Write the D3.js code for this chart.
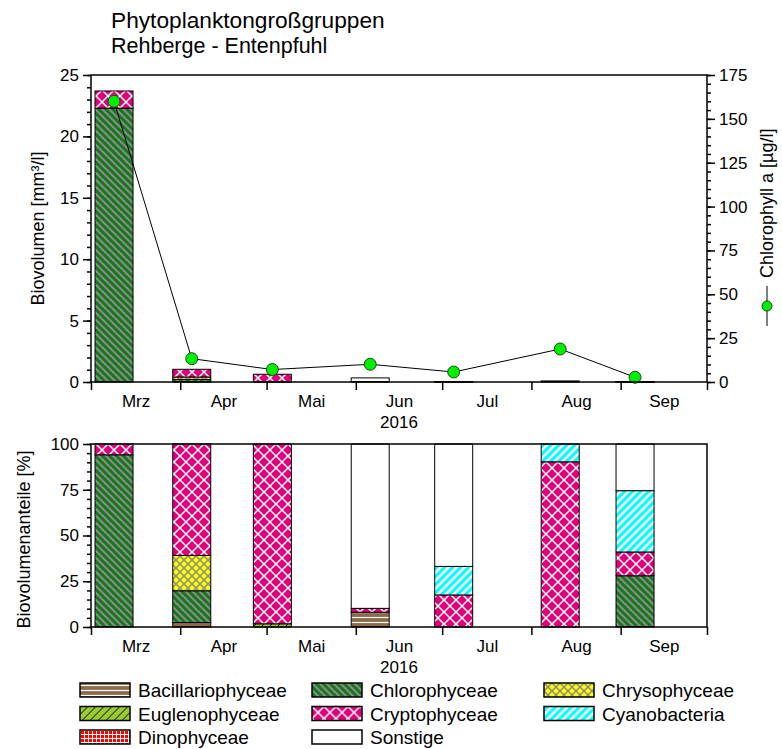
<!DOCTYPE html>
<html>
<head>
<meta charset="utf-8">
<script src="https://cdn.jsdelivr.net/npm/d3@7"></script>
<style>
  body { margin: 0; background: #fff; }
  svg { display: block; }
</style>
</head>
<body>
<script>
// Probenahmen Rehberge - Entenpfuhl 2016
const months = ['Mrz', 'Apr', 'Mai', 'Jun', 'Jul', 'Aug', 'Sep']
const sampleDates = ['2016-03-09', '2016-04-05', '2016-05-03', '2016-06-06', '2016-07-05', '2016-08-11', '2016-09-06']
const groups = ['Bacillariophyceae', 'Chlorophyceae', 'Chrysophyceae', 'Euglenophyceae',
  'Cryptophyceae', 'Cyanobacteria', 'Dinophyceae', 'Sonstige']

// Biovolumen [mm³/l] je Gruppe und Probe
const bacillariophyceae = [0, 0.025, 0, 0.027, 0, 0, 0]
const chlorophyceae = [22.3, 0.18, 0, 0, 0, 0, 0.0028]
const chrysophyceae = [0, 0.2, 0, 0, 0, 0, 0]
const euglenophyceae = [0, 0, 0.011, 0, 0, 0, 0]
const cryptophyceae = [1.4, 0.63, 0.62, 0.007, 0.0027, 0.065, 0.0013]
const cyanobacteria = [0, 0, 0, 0, 0.0024, 0.007, 0.00335]
const dinophyceae = [0, 0, 0, 0, 0, 0, 0]
const sonstige = [0, 0, 0, 0.3, 0.0103, 0, 0.00255]

// Chlorophyll a [µg/l]
const chlorophyll = [160, 13.3, 7.1, 10.1, 5.7, 18.8, 2.7]

const biovolumeTicks = [0, 5, 10, 15, 20, 25]
const chlorophyllTicks = [0, 25, 50, 75, 100, 125, 150, 175]
const percentTicks = [0, 25, 50, 75, 100]

const overallWidth = 782
const overallHeight = 749
const plot = { left: 91, right: 707, top1: 75, bottom1: 382, top2: 444, bottom2: 627 }
const barWidth = 38
const font = "'Liberation Sans', Arial, sans-serif"

const biovolumes = [bacillariophyceae, chlorophyceae, chrysophyceae, euglenophyceae,
  cryptophyceae, cyanobacteria, dinophyceae, sonstige]

const parse = d3.timeParse('%Y-%m-%d')
const dates = sampleDates.map(parse)

const rows = dates.map((date, i) => {
  const row = { date }
  groups.forEach((g, j) => { row[g] = biovolumes[j][i] })
  return row
})
const percentRows = rows.map(r => {
  const total = d3.sum(groups, g => r[g])
  const row = { date: r.date }
  groups.forEach(g => { row[g] = 100 * r[g] / total })
  return row
})

const x = d3.scaleTime()
  .domain([new Date(2016, 2, 1), new Date(2016, 9, 1)])
  .range([plot.left, plot.right])
const y1 = d3.scaleLinear().domain([0, 25]).range([plot.bottom1, plot.top1])
const y2 = d3.scaleLinear().domain([0, 175]).range([plot.bottom1, plot.top1])
const y3 = d3.scaleLinear().domain([0, 100]).range([plot.bottom2, plot.top2])

const monthStarts = d3.timeMonth.range(x.domain()[0], d3.timeDay.offset(x.domain()[1], 1))
const monthMids = months.map((m, i) => new Date((+monthStarts[i] + +monthStarts[i + 1]) / 2))

const svg = d3.select('body').append('svg')
  .attr('width', overallWidth)
  .attr('height', overallHeight)
  .attr('font-family', font)

// Schraffuren
const defs = svg.append('defs')
const pattern = (id, w, h, bg) => {
  const p = defs.append('pattern')
    .attr('id', id)
    .attr('patternUnits', 'userSpaceOnUse')
    .attr('width', w)
    .attr('height', h)
  p.append('rect').attr('width', w).attr('height', h).attr('fill', bg)
  return p
}
pattern('p-bac', 6, 5, '#8c6a4a')
  .append('path').attr('d', 'M0,2.5H6').attr('stroke', '#fff').attr('stroke-width', 1.2)
pattern('p-chl', 7, 7, '#13791a')
  .append('path').attr('d', 'M0,0L7,7M-1,6L1,8M6,-1L8,1').attr('stroke', '#8a8a8a').attr('stroke-width', 2)
pattern('p-chr', 8, 8, '#ffff00')
  .append('path').attr('d', 'M0,0L8,8M8,0L0,8').attr('stroke', '#8a8a8a').attr('stroke-width', 1.5)
pattern('p-eug', 8, 8, '#99cc33')
  .append('path').attr('d', 'M0,8L8,0M-1,1L1,-1M7,9L9,7').attr('stroke', '#000').attr('stroke-width', 1)
pattern('p-cry', 12, 12, '#e0007a')
  .append('path').attr('d', 'M0,0L12,12M12,0L0,12').attr('stroke', '#fff').attr('stroke-width', 1.5)
pattern('p-cya', 8, 8, '#00ffff')
  .append('path').attr('d', 'M0,8L8,0M-1,1L1,-1M7,9L9,7').attr('stroke', '#fff').attr('stroke-width', 2.5)
pattern('p-din', 4, 4, '#ff0000')
  .append('path').attr('d', 'M0,0.5H4M0.5,0V4').attr('stroke', '#fff').attr('stroke-width', 1)

const fills = {
  Bacillariophyceae: 'url(#p-bac)',
  Chlorophyceae: 'url(#p-chl)',
  Chrysophyceae: 'url(#p-chr)',
  Euglenophyceae: 'url(#p-eug)',
  Cryptophyceae: 'url(#p-cry)',
  Cyanobacteria: 'url(#p-cya)',
  Dinophyceae: 'url(#p-din)',
  Sonstige: '#fff'
}

const stack = d3.stack().keys(groups)

const drawBars = (series, y) => svg.append('g')
  .selectAll('g')
  .data(series).join('g')
  .attr('fill', d => fills[d.key])
  .selectAll('rect')
  .data(d => d.filter(s => s[1] - s[0] > 0)).join('rect')
  .attr('x', d => x(d.data.date) - barWidth / 2)
  .attr('width', barWidth)
  .attr('y', d => y(d[1]))
  .attr('height', d => y(d[0]) - y(d[1]))
  .attr('stroke', '#000')
  .attr('stroke-width', 1)

const styleAxis = g => g
  .attr('font-size', 17)
  .attr('font-family', font)
  .call(g => g.select('.domain').remove())
  .call(g => g.selectAll('.tick line').attr('stroke', '#000').attr('stroke-width', 1.5))
  .call(g => g.selectAll('.tick text').attr('fill', '#000'))

const xAxes = (yPos) => {
  svg.append('g')
    .attr('transform', `translate(0,${yPos})`)
    .call(d3.axisBottom(x).tickValues(monthStarts).tickSize(8).tickFormat(''))
    .call(styleAxis)
  svg.append('g')
    .attr('transform', `translate(0,${yPos})`)
    .call(d3.axisBottom(x).tickValues(monthMids).tickSize(0).tickPadding(13).tickFormat((d, i) => months[i]))
    .call(styleAxis)
  svg.append('text')
    .text('2016')
    .attr('x', (plot.left + plot.right) / 2)
    .attr('y', yPos + 46)
    .attr('text-anchor', 'middle')
    .attr('font-size', 17)
}

// oberes Diagramm: Biovolumen + Chlorophyll
drawBars(stack(rows), y1)

const line = d3.line().x((d, i) => x(dates[i])).y(d => y2(d))
svg.append('path')
  .datum(chlorophyll)
  .attr('d', line)
  .attr('fill', 'none')
  .attr('stroke', '#000')
  .attr('stroke-width', 1)
svg.append('g')
  .selectAll('circle')
  .data(chlorophyll).join('circle')
  .attr('cx', (d, i) => x(dates[i]))
  .attr('cy', d => y2(d))
  .attr('r', 6)
  .attr('fill', '#00ee00')
  .attr('stroke', '#1b4d1b')
  .attr('stroke-width', 1)

svg.append('rect')
  .attr('x', plot.left).attr('y', plot.top1)
  .attr('width', plot.right - plot.left).attr('height', plot.bottom1 - plot.top1)
  .attr('fill', 'none').attr('stroke', '#000').attr('stroke-width', 1.5)

svg.append('g')
  .attr('transform', `translate(${plot.left},0)`)
  .call(d3.axisLeft(y1).tickValues(d3.range(0, 26)).tickSize(4).tickFormat(''))
  .call(styleAxis)
svg.append('g')
  .attr('transform', `translate(${plot.left},0)`)
  .call(d3.axisLeft(y1).tickValues(biovolumeTicks).tickSize(8).tickPadding(4))
  .call(styleAxis)
svg.append('g')
  .attr('transform', `translate(${plot.right},0)`)
  .call(d3.axisRight(y2).tickValues(d3.range(0, 176, 5)).tickSize(4).tickFormat(''))
  .call(styleAxis)
svg.append('g')
  .attr('transform', `translate(${plot.right},0)`)
  .call(d3.axisRight(y2).tickValues(chlorophyllTicks).tickSize(8).tickPadding(4))
  .call(styleAxis)
xAxes(plot.bottom1)

// unteres Diagramm: Anteile
drawBars(stack(percentRows), y3)

svg.append('rect')
  .attr('x', plot.left).attr('y', plot.top2)
  .attr('width', plot.right - plot.left).attr('height', plot.bottom2 - plot.top2)
  .attr('fill', 'none').attr('stroke', '#000').attr('stroke-width', 1.5)

svg.append('g')
  .attr('transform', `translate(${plot.left},0)`)
  .call(d3.axisLeft(y3).tickValues(d3.range(0, 101, 5)).tickSize(4).tickFormat(''))
  .call(styleAxis)
svg.append('g')
  .attr('transform', `translate(${plot.left},0)`)
  .call(d3.axisLeft(y3).tickValues(percentTicks).tickSize(8).tickPadding(4))
  .call(styleAxis)
xAxes(plot.bottom2)

// Titel und Achsenbeschriftungen
svg.append('text')
  .text('Phytoplanktongroßgruppen')
  .attr('x', 111).attr('y', 28)
  .attr('font-size', 22.7)
svg.append('text')
  .text('Rehberge - Entenpfuhl')
  .attr('x', 111).attr('y', 53)
  .attr('font-size', 21.5)

svg.append('text')
  .text('Biovolumen [mm³/l]')
  .attr('transform', `translate(44,${(plot.top1 + plot.bottom1) / 2}) rotate(-90)`)
  .attr('text-anchor', 'middle')
  .attr('font-size', 18)
svg.append('text')
  .text('Biovolumenanteile [%]')
  .attr('transform', `translate(30,${(plot.top2 + plot.bottom2) / 2 + 4}) rotate(-90)`)
  .attr('text-anchor', 'middle')
  .attr('font-size', 18)

const chlLabel = svg.append('g')
  .attr('transform', 'translate(773,326) rotate(-90)')
chlLabel.append('path')
  .attr('d', 'M0,-6H40')
  .attr('stroke', '#000')
  .attr('stroke-width', 1)
chlLabel.append('circle')
  .attr('cx', 20).attr('cy', -6).attr('r', 5)
  .attr('fill', '#00ee00').attr('stroke', '#1b4d1b')
chlLabel.append('text')
  .text('Chlorophyll a [µg/l]')
  .attr('x', 48)
  .attr('font-size', 18)

// Legende
const legend = svg.append('g')
  .selectAll('g')
  .data(groups).join('g')
  .attr('transform', (d, i) => `translate(${80 + (i % 3) * 232},${683 + Math.floor(i / 3) * 23.5})`)
legend.append('rect')
  .attr('width', 50).attr('height', 14)
  .attr('fill', d => fills[d])
  .attr('stroke', '#000').attr('stroke-width', 1.5)
legend.append('text')
  .text(d => d)
  .attr('x', 58).attr('y', 14)
  .attr('font-size', 19)
</script>
</body>
</html>
